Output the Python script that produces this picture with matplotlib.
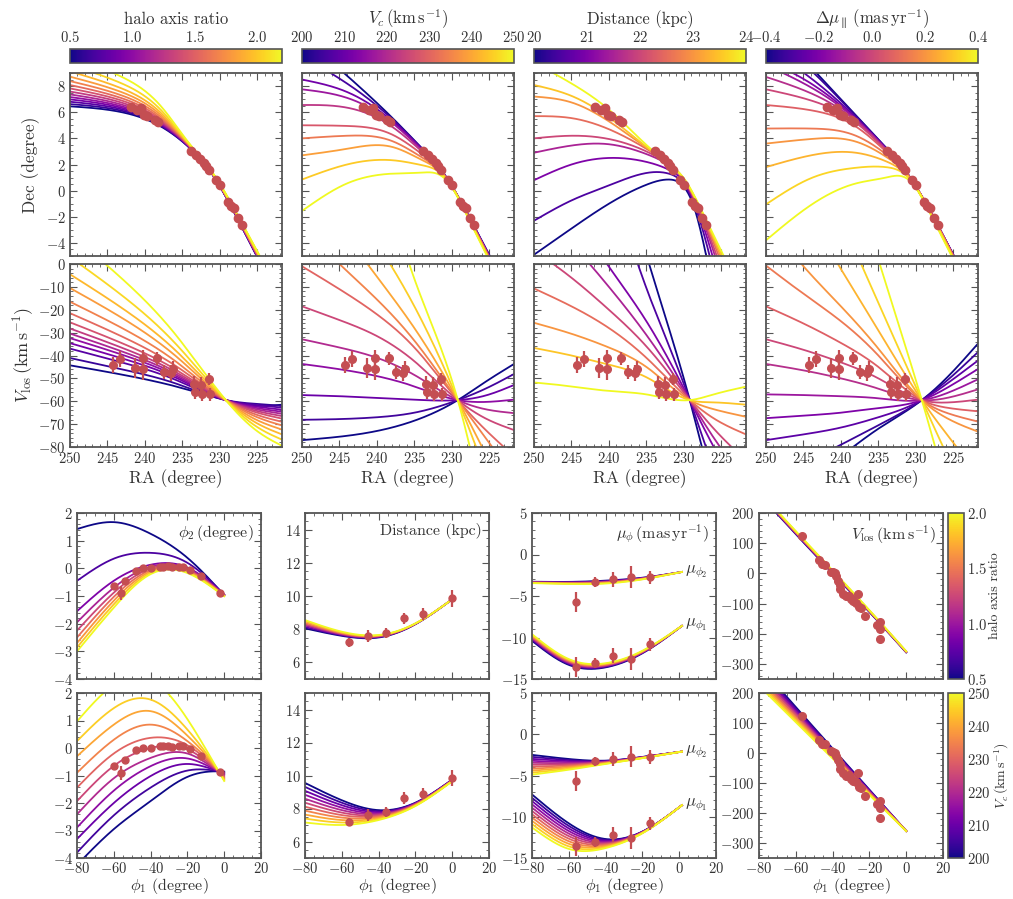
import numpy as np
import matplotlib
matplotlib.use('Agg')
import matplotlib.pyplot as plt
from matplotlib.ticker import AutoMinorLocator, MultipleLocator
from matplotlib.colors import Normalize
from matplotlib.cm import ScalarMappable

plt.rcParams['font.family'] = 'serif'
plt.rcParams['font.serif'] = ['cmr10']
plt.rcParams['mathtext.fontset'] = 'cm'
plt.rcParams['axes.formatter.use_mathtext'] = True

RED = '#c44e52'
GREY = '#555555'

# ---- observed stream data (top panels) ----
RA_DEC = [241.8, 241.1, 240.5, 240.1, 239.7, 238.7, 238.3, 233.9, 233.2, 232.6,
          232.1, 231.8, 231.5, 230.5, 230.0, 228.9, 228.5, 228.1, 227.6, 227.0]
DEC_OBS = [6.4, 6.2, 6.3, 5.8, 5.7, 5.4, 5.25, 3.0, 2.7, 2.45,
           2.1, 1.9, 1.6, 0.84, 0.45, -0.85, -1.2, -1.35, -2.1, -2.65]
RA_V = [244.3, 243.3, 241.3, 240.3, 240.3, 238.4, 237.5, 236.5, 236.3,
        233.5, 233.3, 232.5, 232.4, 231.4, 231.3]
V_OBS = [-44.3, -41.5, -45.5, -41.3, -46.0, -41.3, -47.2, -47.5, -46.0,
         -52.5, -56.0, -52.7, -56.7, -50.3, -57.0]
V_ERR = [3.5, 3.5, 4.5, 3.5, 4.5, 3.0, 3.0, 3.5, 3.5, 3.5, 3.0, 3.5, 3.0, 2.5, 3.0]

# ---- observed stream data (bottom panels) ----
PHI1_P2 = [-60, -56, -54, -48, -44, -40, -35, -33, -30.5, -28.5, -24.5, -22.5, -18.5, -12.5, -2.5]
PHI2_OBS = [-0.65, -0.9, -0.45, -0.08, 0.01, 0.0, 0.06, 0.06, 0.07, 0.04, 0.06, 0.06, -0.05, -0.29, -0.88]
PHI2_ERR = [0.12, 0.25, 0.1, 0.1, 0.08, 0.06, 0.06, 0.06, 0.06, 0.05, 0.06, 0.05, 0.08, 0.1, 0.08]
PHI1_D = [-56, -46, -36, -26, -16, 0]
DIST_OBS = [7.2, 7.6, 7.8, 8.65, 8.9, 9.85]
DIST_ERR = [0.25, 0.35, 0.3, 0.35, 0.35, 0.5]
PHI1_MU = [-56, -46, -36, -26, -16]
MU2_OBS = [-5.7, -3.3, -3.0, -2.7, -2.75]
MU1_OBS = [-13.6, -13.1, -12.2, -12.6, -10.8]
MU_ERR = [1.2, 0.6, 0.9, 1.3, 0.8]
PHI1_V = [-56.4, -47.4, -45.6, -44.3, -40.7, -39.8, -38.9, -38.0, -36.8, -36.2, -36.2, -34.3, -32.6,
          -31.0, -29.8, -28.9, -27.4, -26.2, -25.8, -24.7, -22.2, -15.7, -14.4, -14.0, -14.4]
VLOS_OBS = [123, 44, 31, 29, 6, 4, 1, -10, -24, -38, -52, -68, -76,
            -74, -85, -92, -98, -68, -112, -115, -142, -170, -160, -184, -217]

# ---- model curves: values read at knots, ordered low -> high parameter ----
DEC_Q_RA = [250, 244, 238, 234, 231, 227.5, 224]
DEC_Q = [
    [6.45, 6.10, 4.95, 3.25, 1.25, -2.30, -6.20],
    [6.62, 6.22, 5.01, 3.27, 1.26, -2.28, -6.17],
    [6.80, 6.34, 5.07, 3.29, 1.26, -2.26, -6.14],
    [6.98, 6.46, 5.13, 3.31, 1.27, -2.24, -6.11],
    [7.16, 6.58, 5.19, 3.33, 1.28, -2.22, -6.08],
    [7.36, 6.72, 5.27, 3.35, 1.29, -2.20, -6.05],
    [7.58, 6.88, 5.36, 3.37, 1.30, -2.18, -6.01],
    [7.82, 7.05, 5.46, 3.39, 1.31, -2.16, -5.97],
    [8.08, 7.24, 5.57, 3.41, 1.32, -2.13, -5.93],
    [8.38, 7.46, 5.70, 3.44, 1.34, -2.11, -5.88],
    [8.72, 7.72, 5.85, 3.46, 1.35, -2.08, -5.83],
    [9.12, 8.02, 6.02, 3.49, 1.37, -2.05, -5.78],
    [9.62, 8.42, 6.25, 3.52, 1.38, -2.02, -5.74],
    [10.40, 8.95, 6.55, 3.55, 1.40, -2.00, -5.70],
]
DEC_VC_RA = [250, 244, 238, 234, 231, 227.5, 224]
DEC_VC = [
    [11.80, 8.80, 5.60, 3.25, 1.25, -2.20, -6.00],
    [10.30, 8.20, 5.50, 3.22, 1.24, -2.22, -6.05],
    [8.50, 7.55, 5.35, 3.18, 1.23, -2.24, -6.10],
    [7.75, 7.10, 5.20, 3.12, 1.22, -2.26, -6.15],
    [6.55, 6.35, 4.90, 3.00, 1.20, -2.28, -6.20],
    [5.00, 4.95, 4.30, 2.80, 1.18, -2.30, -6.25],
    [4.00, 4.20, 3.80, 2.55, 1.15, -2.33, -6.30],
    [2.70, 3.20, 3.35, 2.35, 1.12, -2.36, -6.35],
    [0.85, 2.00, 2.33, 1.95, 1.08, -2.40, -6.40],
    [-1.55, 0.55, 1.30, 1.38, 0.95, -2.45, -6.50],
]
DEC_D_RA = [250, 245, 240, 235, 232, 230, 228.5, 227, 224.5]
DEC_D = [
    [-4.9, -2.9, -1.0, 0.45, 0.85, 0.3, -1.5, -5.0, -12.0],
    [-2.3, -0.75, 0.4, 1.35, 1.3, 0.5, -1.2, -4.0, -10.0],
    [0.8, 2.0, 2.5, 2.2, 1.6, 0.65, -1.0, -3.4, -8.5],
    [2.9, 3.45, 3.55, 2.8, 1.95, 0.8, -0.85, -3.0, -7.5],
    [4.0, 4.2, 3.95, 3.0, 2.0, 0.85, -0.75, -2.8, -6.8],
    [5.7, 5.55, 4.7, 3.2, 2.05, 0.9, -0.65, -2.6, -6.2],
    [7.2, 6.75, 5.3, 3.3, 2.05, 0.9, -0.6, -2.45, -5.8],
    [8.08, 7.25, 5.6, 3.35, 2.0, 0.9, -0.55, -2.35, -5.5],
    [9.8, 8.2, 6.2, 3.5, 2.05, 0.95, -0.5, -2.25, -5.2],
]
DEC_DMU_RA = [250, 244, 238, 234, 231, 227.5, 224]
DEC_DMU = [
    [12.9, 9.45, 5.75, 3.30, 1.20, -2.20, -6.00],
    [12.0, 9.20, 5.70, 3.28, 1.20, -2.20, -6.00],
    [11.0, 8.60, 5.60, 3.25, 1.20, -2.20, -6.00],
    [10.0, 8.20, 5.50, 3.22, 1.20, -2.20, -6.05],
    [9.6, 7.90, 5.45, 3.20, 1.19, -2.20, -6.05],
    [8.7, 7.45, 5.35, 3.15, 1.18, -2.21, -6.10],
    [7.75, 6.90, 5.20, 3.10, 1.17, -2.22, -6.10],
    [6.55, 6.15, 4.90, 3.00, 1.15, -2.23, -6.15],
    [4.75, 4.75, 4.20, 2.80, 1.12, -2.25, -6.20],
    [3.6, 3.95, 3.75, 2.60, 1.10, -2.27, -6.20],
    [1.8, 2.70, 2.90, 2.25, 1.05, -2.30, -6.25],
    [-1.05, 0.95, 1.75, 1.80, 1.00, -2.35, -6.30],
    [-3.8, -1.10, 0.55, 1.00, 0.85, -2.40, -6.40],
]
VLOS_Q_RA = [250, 243, 236, 229.2, 225, 221.7]
VLOS_Q = [
    [-44.3, -48.4, -53.4, -59.5, -62.0, -61.5],
    [-41.1, -46.1, -52.1, -59.5, -61.2, -62.0],
    [-37.0, -43.1, -50.5, -59.5, -61.7, -62.8],
    [-34.6, -41.3, -49.5, -59.5, -62.4, -63.7],
    [-32.4, -39.7, -48.7, -59.5, -63.0, -64.6],
    [-30.4, -38.3, -47.9, -59.5, -63.6, -65.5],
    [-28.2, -36.7, -47.0, -59.5, -64.3, -66.5],
    [-25.5, -34.7, -45.9, -59.5, -65.0, -67.6],
    [-21.5, -31.8, -44.3, -59.5, -66.0, -69.0],
    [-16.5, -28.1, -42.3, -59.5, -67.0, -70.6],
    [-10.5, -23.7, -39.9, -59.5, -68.3, -72.4],
    [-4.5, -19.4, -37.5, -59.5, -69.7, -74.5],
    [3.0, -13.9, -34.5, -59.5, -71.3, -76.8],
    [13.0, -6.6, -30.5, -59.5, -73.1, -79.5],
]
VLOS_VC_RA = [250, 245, 240, 235, 229.2, 225.5, 221.7]
VLOS_VC = [
    [-77.0, -75.5, -73.0, -68.5, -59.5, -51.5, -43.7],
    [-68.1, -67.8, -67.0, -65.0, -59.5, -54.5, -48.1],
    [-57.3, -57.8, -58.5, -59.3, -59.5, -57.5, -52.9],
    [-43.7, -46.0, -49.0, -53.5, -59.5, -60.3, -59.3],
    [-32.9, -36.5, -41.0, -48.5, -59.5, -63.5, -65.2],
    [-18.5, -24.5, -31.5, -42.5, -59.5, -67.5, -72.6],
    [-1.0, -11.0, -22.0, -36.5, -59.5, -72.5, -84.0],
    [16.0, 0.0, -15.5, -33.5, -59.5, -76.0, -93.0],
    [35.0, 16.0, -5.5, -28.0, -59.5, -83.0, -108.0],
    [60.0, 33.0, 9.0, -18.5, -59.5, -91.0, -125.0],
    [150.0, 95.0, 45.0, -6.5, -59.5, -110.0, -165.0],
]
VLOS_D_RA = [250, 245, 240, 235, 229.2, 226, 221.7]
VLOS_D = [
    [180.0, 120.0, 62.0, 4.0, -59.5, -100.0, -150.0],
    [125.0, 81.0, 37.0, -10.5, -59.5, -90.0, -128.0],
    [48.0, 23.0, -1.2, -25.0, -59.5, -80.0, -103.0],
    [26.0, 9.0, -10.0, -31.0, -59.5, -76.0, -95.0],
    [6.0, -6.0, -20.0, -36.0, -59.5, -72.0, -86.0],
    [-10.7, -18.5, -28.0, -41.0, -59.5, -67.5, -74.5],
    [-25.7, -30.5, -36.5, -45.0, -59.5, -63.5, -66.8],
    [-36.7, -40.0, -44.0, -49.5, -59.5, -60.5, -61.5],
    [-51.8, -53.5, -55.5, -57.0, -59.5, -57.0, -53.6],
]
VLOS_DMU_RA = [250, 245, 240, 235, 229.2, 225.5, 221.7]
VLOS_DMU = [
    [-108.0, -96.0, -84.0, -72.0, -59.5, -48.5, -34.8],
    [-94.0, -87.0, -79.0, -70.5, -59.5, -50.0, -38.5],
    [-77.0, -74.5, -71.5, -67.0, -59.5, -51.5, -42.2],
    [-67.4, -66.3, -65.0, -63.0, -59.5, -53.5, -45.9],
    [-57.0, -57.3, -57.8, -58.7, -59.5, -56.0, -50.4],
    [-43.7, -46.5, -50.0, -54.5, -59.5, -58.3, -54.8],
    [-32.9, -37.5, -43.0, -50.0, -59.5, -60.5, -59.3],
    [-18.5, -26.0, -34.5, -45.0, -59.5, -63.0, -64.4],
    [-0.7, -13.0, -25.0, -40.0, -59.5, -65.5, -68.9],
    [19.0, -1.0, -18.5, -37.0, -59.5, -68.0, -73.3],
    [50.0, 25.0, -2.2, -29.0, -59.5, -76.0, -92.0],
    [94.0, 57.0, 20.0, -17.0, -59.5, -86.0, -112.0],
    [135.0, 95.0, 55.0, 2.0, -59.5, -103.0, -150.0],
]

PHI_KNOTS = [-80, -60, -40, -20, 0]
MU_KNOTS = [-80, -60, -40, -20, 1.5]
PHI2_VC_KNOTS = [-80, -60, -40, -20, -3, 0]
PHI2_Q = [
    [1.42, 1.67, 1.25, 0.38, -0.97],
    [-0.45, 0.35, 0.56, 0.20, -0.95],
    [-1.55, -0.45, 0.13, 0.03, -0.95],
    [-1.95, -0.70, 0.06, -0.01, -0.96],
    [-2.25, -0.88, 0.00, -0.05, -0.97],
    [-2.50, -1.03, -0.06, -0.08, -0.98],
    [-2.70, -1.17, -0.11, -0.11, -0.99],
    [-2.86, -1.30, -0.16, -0.14, -1.00],
    [-3.00, -1.42, -0.21, -0.17, -1.01],
]
DIST_Q = [
    [8.05, 7.60, 7.50, 8.30, 9.80],
    [8.13, 7.64, 7.53, 8.31, 9.80],
    [8.22, 7.68, 7.55, 8.32, 9.80],
    [8.30, 7.72, 7.58, 8.33, 9.80],
    [8.38, 7.76, 7.60, 8.33, 9.80],
    [8.47, 7.80, 7.63, 8.34, 9.80],
    [8.55, 7.85, 7.65, 8.35, 9.80],
]
MU2_Q = [
    [-3.28, -3.30, -3.15, -2.80, -2.10],
    [-3.31, -3.34, -3.21, -2.83, -2.10],
    [-3.34, -3.38, -3.27, -2.87, -2.10],
    [-3.37, -3.43, -3.33, -2.90, -2.10],
    [-3.40, -3.47, -3.38, -2.93, -2.10],
    [-3.42, -3.51, -3.44, -2.97, -2.10],
    [-3.45, -3.55, -3.50, -3.00, -2.10],
]
MU1_Q = [
    [-10.40, -13.30, -13.60, -11.90, -8.60],
    [-10.27, -13.18, -13.52, -11.85, -8.60],
    [-10.13, -13.07, -13.43, -11.80, -8.60],
    [-10.00, -12.95, -13.35, -11.75, -8.60],
    [-9.87, -12.83, -13.27, -11.70, -8.60],
    [-9.73, -12.72, -13.18, -11.65, -8.60],
    [-9.60, -12.60, -13.10, -11.60, -8.60],
]
VLOS1_Q = [
    [262, 130, 0, -128, -262],
    [264, 132, 2, -127, -261],
    [265, 133, 3, -126, -261],
    [267, 135, 5, -125, -260],
    [269, 137, 7, -124, -259],
    [270, 138, 8, -123, -259],
    [272, 140, 10, -122, -258],
]
PHI2_VC = [
    [-4.25, -2.95, -1.93, -1.05, -0.85, -0.86],
    [-3.80, -2.45, -1.44, -0.82, -0.85, -0.89],
    [-3.31, -2.00, -1.02, -0.58, -0.85, -0.92],
    [-2.89, -1.55, -0.66, -0.38, -0.85, -0.95],
    [-2.41, -1.10, -0.36, -0.20, -0.85, -0.98],
    [-1.93, -0.65, 0.00, -0.05, -0.85, -1.02],
    [-1.44, -0.20, 0.37, 0.10, -0.85, -1.06],
    [-0.90, 0.30, 0.85, 0.25, -0.85, -1.10],
    [-0.30, 0.85, 1.34, 0.45, -0.85, -1.14],
    [0.25, 1.45, 1.76, 0.67, -0.85, -1.17],
    [0.97, 2.30, 2.50, 1.05, -0.85, -1.20],
]
DIST_VC = [
    [9.55, 8.50, 7.90, 8.35, 9.75],
    [9.31, 8.35, 7.84, 8.33, 9.74],
    [9.07, 8.20, 7.78, 8.31, 9.73],
    [8.83, 8.05, 7.72, 8.29, 9.72],
    [8.59, 7.90, 7.66, 8.27, 9.71],
    [8.35, 7.75, 7.60, 8.25, 9.70],
    [8.11, 7.60, 7.54, 8.23, 9.69],
    [7.87, 7.45, 7.48, 8.21, 9.68],
    [7.63, 7.30, 7.42, 8.19, 9.67],
    [7.39, 7.15, 7.36, 8.17, 9.66],
    [7.15, 7.00, 7.30, 8.15, 9.65],
]
MU2_VC = [
    [-2.50, -3.00, -3.20, -2.75, -2.10],
    [-2.74, -3.13, -3.24, -2.77, -2.10],
    [-2.98, -3.26, -3.28, -2.78, -2.10],
    [-3.22, -3.39, -3.32, -2.80, -2.10],
    [-3.46, -3.52, -3.36, -2.81, -2.10],
    [-3.70, -3.65, -3.40, -2.83, -2.10],
    [-3.94, -3.78, -3.44, -2.84, -2.10],
    [-4.18, -3.91, -3.48, -2.86, -2.10],
    [-4.42, -4.04, -3.52, -2.87, -2.10],
    [-4.66, -4.17, -3.56, -2.89, -2.10],
    [-4.90, -4.30, -3.60, -2.90, -2.10],
]
MU1_VC = [
    [-7.3, -10.80, -12.70, -11.80, -8.60],
    [-7.7, -11.11, -12.81, -11.82, -8.60],
    [-8.1, -11.42, -12.92, -11.84, -8.60],
    [-8.5, -11.73, -13.03, -11.86, -8.60],
    [-8.9, -12.04, -13.14, -11.88, -8.60],
    [-9.3, -12.35, -13.25, -11.90, -8.60],
    [-9.7, -12.66, -13.36, -11.92, -8.60],
    [-10.1, -12.97, -13.47, -11.94, -8.60],
    [-10.5, -13.28, -13.58, -11.96, -8.60],
    [-10.9, -13.59, -13.69, -11.98, -8.60],
    [-11.3, -13.90, -13.80, -12.00, -8.60],
]
VLOS1_VC = [
    [292, 153, 15, -122, -260],
    [285, 148, 12, -124, -260],
    [278, 143, 8, -126, -260],
    [272, 138, 5, -127, -260],
    [265, 133, 2, -129, -260],
    [258, 128, -2, -131, -260],
    [251, 123, -5, -133, -260],
    [244, 118, -8, -135, -260],
    [238, 113, -11, -136, -260],
    [231, 108, -15, -138, -260],
    [224, 103, -18, -140, -260],
]

W, H = 1013, 899


def natural_spline(xk, yk, xs):
    order = np.argsort(xk)
    x = np.asarray(xk, float)[order]
    y = np.asarray(yk, float)[order]
    n = len(x)
    h = np.diff(x)
    A = np.zeros((n, n))
    r = np.zeros(n)
    A[0, 0] = A[-1, -1] = 1.0
    for i in range(1, n - 1):
        A[i, i - 1] = h[i - 1]
        A[i, i] = 2 * (h[i - 1] + h[i])
        A[i, i + 1] = h[i]
        r[i] = 3 * ((y[i + 1] - y[i]) / h[i] - (y[i] - y[i - 1]) / h[i - 1])
    c = np.linalg.solve(A, r)
    b = np.diff(y) / h - h * (2 * c[:-1] + c[1:]) / 3
    d = np.diff(c) / (3 * h)
    i = np.clip(np.searchsorted(x, xs) - 1, 0, n - 2)
    t = xs - x[i]
    return y[i] + b[i] * t + c[i] * t ** 2 + d[i] * t ** 3


def draw_family(ax, knots, curves):
    xs = np.linspace(min(knots), max(knots), 400)
    colors = plt.cm.plasma(np.linspace(0, 1, len(curves)))
    for row, col in zip(curves, colors):
        ax.plot(xs, natural_spline(knots, row, xs), color=col, lw=1.3, zorder=2)


def add_ax(fig, x0, y0, w, h):
    return fig.add_axes([x0 / W, 1 - (y0 + h) / H, w / W, h / H])


def style(ax):
    ax.tick_params(which='both', direction='in', top=True, right=True,
                   color=GREY, labelcolor='#333333', labelsize=10.5, pad=3)
    ax.tick_params(which='major', length=5, width=0.8)
    ax.tick_params(which='minor', length=2.5, width=0.6)
    ax.xaxis.set_minor_locator(AutoMinorLocator())
    ax.yaxis.set_minor_locator(AutoMinorLocator())
    for s in ax.spines.values():
        s.set_color(GREY)
        s.set_linewidth(1.3)


def main():
    fig = plt.figure(figsize=(W / 100, H / 100), dpi=100)

    top_x = [70, 302, 534, 766]
    cb_specs = [
        ('halo axis ratio', 0.5, 2.2, [0.5, 1.0, 1.5, 2.0]),
        (r'$V_c\,(\mathrm{km\,s^{-1}})$', 200, 250, [200, 210, 220, 230, 240, 250]),
        ('Distance (kpc)', 20, 24, [20, 21, 22, 23, 24]),
        (r'$\Delta\mu_{\parallel}\,(\mathrm{mas\,yr^{-1}})$', -0.4, 0.4, [-0.4, -0.2, 0.0, 0.2, 0.4]),
    ]
    dec_sets = [(DEC_Q_RA, DEC_Q), (DEC_VC_RA, DEC_VC), (DEC_D_RA, DEC_D), (DEC_DMU_RA, DEC_DMU)]
    vlos_sets = [(VLOS_Q_RA, VLOS_Q), (VLOS_VC_RA, VLOS_VC), (VLOS_D_RA, VLOS_D), (VLOS_DMU_RA, VLOS_DMU)]

    for j, x0 in enumerate(top_x):
        label, lo, hi, ticks = cb_specs[j]
        cax = add_ax(fig, x0, 49, 212, 14)
        cb = fig.colorbar(ScalarMappable(Normalize(lo, hi), plt.cm.plasma), cax=cax,
                          orientation='horizontal')
        cb.set_ticks(ticks)
        cax.xaxis.set_ticks_position('top')
        cax.xaxis.set_label_position('top')
        cax.tick_params(length=0, labelsize=10.5, labelcolor='#333333', pad=3)
        cax.set_xlabel(label, fontsize=12, color='#333333', labelpad=4)
        cb.outline.set_edgecolor(GREY)
        cb.outline.set_linewidth(1.2)

        ax = add_ax(fig, x0, 73, 212, 183)
        draw_family(ax, *dec_sets[j])
        ax.plot(RA_DEC, DEC_OBS, 'o', color=RED, ms=6, zorder=5)
        ax.set_xlim(250, 221.7)
        ax.set_ylim(-5, 9)
        ax.xaxis.set_major_locator(MultipleLocator(5))
        ax.yaxis.set_major_locator(MultipleLocator(2))
        style(ax)
        ax.tick_params(labelbottom=False, labelleft=(j == 0))
        if j == 0:
            ax.set_ylabel('Dec (degree)', fontsize=12.5, color='#333333')

        ax = add_ax(fig, x0, 264, 212, 183)
        draw_family(ax, *vlos_sets[j])
        ax.errorbar(RA_V, V_OBS, yerr=V_ERR, fmt='o', color=RED, ms=5.5,
                    elinewidth=1.6, capsize=0, zorder=5)
        ax.set_xlim(250, 221.7)
        ax.set_ylim(-80, 0)
        ax.xaxis.set_major_locator(MultipleLocator(5))
        ax.yaxis.set_major_locator(MultipleLocator(10))
        style(ax)
        ax.tick_params(labelleft=(j == 0))
        ax.set_xlabel('RA (degree)', fontsize=12.5, color='#333333', labelpad=2)
        if j == 0:
            ax.set_ylabel(r'$V_{\rm los}\,(\mathrm{km\,s^{-1}})$', fontsize=13, color='#333333',
                          labelpad=2)

    bot_x = [77, 305, 532, 759]
    rows = [
        (513, 166, PHI2_Q, DIST_Q, MU2_Q, MU1_Q, VLOS1_Q,
         'halo axis ratio', 0.5, 2.0, [0.5, 1.0, 1.5, 2.0]),
        (693, 165, PHI2_VC, DIST_VC, MU2_VC, MU1_VC, VLOS1_VC,
         r'$V_c\,(\mathrm{km\,s^{-1}})$', 200, 250, [200, 210, 220, 230, 240, 250]),
    ]
    for r, (y0, hh, p2, dist, mu2, mu1, vl, cblabel, lo, hi, ticks) in enumerate(rows):
        last = (r == 1)
        axs = [add_ax(fig, x, y0, 184, hh) for x in bot_x]

        ax = axs[0]
        draw_family(ax, PHI2_VC_KNOTS if last else PHI_KNOTS, p2)
        ax.errorbar(PHI1_P2, PHI2_OBS, yerr=PHI2_ERR, fmt='o', color=RED, ms=5,
                    elinewidth=1.6, capsize=0, zorder=5)
        ax.set_ylim(-4, 2)
        ax.yaxis.set_major_locator(MultipleLocator(1))

        ax = axs[1]
        draw_family(ax, PHI_KNOTS, dist)
        ax.errorbar(PHI1_D, DIST_OBS, yerr=DIST_ERR, fmt='o', color=RED, ms=5,
                    elinewidth=1.6, capsize=0, zorder=5)
        ax.set_ylim(5, 15)
        ax.yaxis.set_major_locator(MultipleLocator(2))

        ax = axs[2]
        draw_family(ax, MU_KNOTS, mu2)
        draw_family(ax, MU_KNOTS, mu1)
        ax.errorbar(PHI1_MU, MU2_OBS, yerr=MU_ERR, fmt='o', color=RED, ms=5,
                    elinewidth=1.6, capsize=0, zorder=5)
        ax.errorbar(PHI1_MU, MU1_OBS, yerr=MU_ERR, fmt='o', color=RED, ms=5,
                    elinewidth=1.6, capsize=0, zorder=5)
        ax.text(3, -2.1, r'$\mu_{\phi_2}$', fontsize=12, color='#333333', va='center')
        ax.text(3, -8.5, r'$\mu_{\phi_1}$', fontsize=12, color='#333333', va='center')
        ax.set_ylim(-15, 5)
        ax.yaxis.set_major_locator(MultipleLocator(5))

        ax = axs[3]
        draw_family(ax, PHI_KNOTS, vl)
        ax.plot(PHI1_V, VLOS_OBS, 'o', color=RED, ms=5.5, zorder=5)
        ax.set_ylim(-350, 200)
        ax.yaxis.set_major_locator(MultipleLocator(100))

        for ax in axs:
            ax.set_xlim(-80, 20)
            ax.xaxis.set_major_locator(MultipleLocator(20))
            style(ax)
            ax.tick_params(labelbottom=last)
            if last:
                ax.tick_params(axis='x', pad=2)
                ax.set_xlabel(r'$\phi_1$ (degree)', fontsize=11.5, color='#333333', labelpad=0)

        if not last:
            notes = [r'$\phi_2\,$(degree)', 'Distance (kpc)',
                     r'$\mu_\phi\,(\mathrm{mas\,yr^{-1}})$', r'$V_{\rm los}\,(\mathrm{km\,s^{-1}})$']
            for ax, note in zip(axs, notes):
                ax.text(0.96, 0.94, note, transform=ax.transAxes, ha='right', va='top',
                        fontsize=11.5, color='#333333')

        cax = add_ax(fig, 948, y0, 16, hh)
        cb = fig.colorbar(ScalarMappable(Normalize(lo, hi), plt.cm.plasma), cax=cax)
        cb.set_ticks(ticks)
        cax.tick_params(length=0, labelsize=10.5, labelcolor='#333333', pad=2)
        cb.set_label(cblabel, fontsize=10, color='#333333', labelpad=1.5)
        cb.outline.set_edgecolor(GREY)
        cb.outline.set_linewidth(1.2)

    fig.savefig('out.png', dpi=100, facecolor='white')


if __name__ == '__main__':
    main()
